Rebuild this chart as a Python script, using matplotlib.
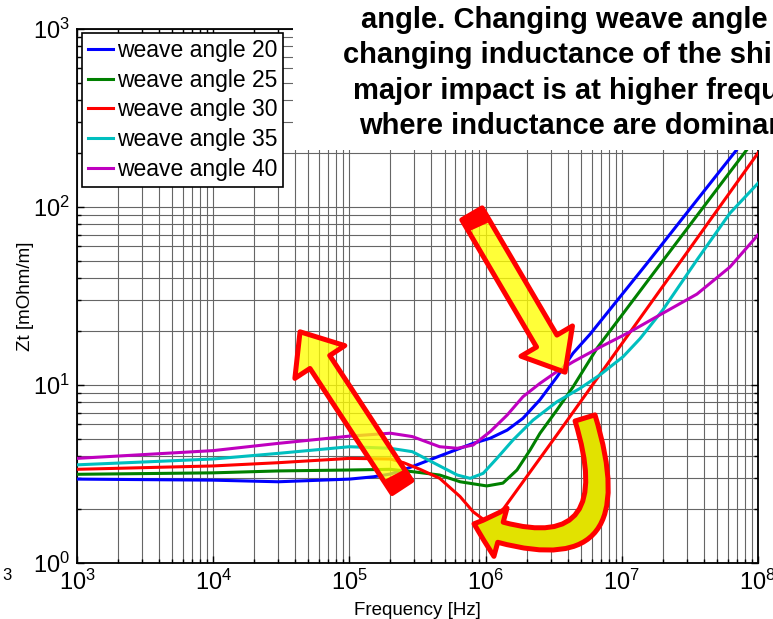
import numpy as np
import matplotlib
matplotlib.use("Agg")
import matplotlib.pyplot as plt
from matplotlib.patches import Rectangle
from matplotlib.ticker import LogLocator, NullFormatter

plt.rcParams['font.family'] = ['Liberation Sans', 'DejaVu Sans']
plt.rcParams['mathtext.fontset'] = 'custom'
plt.rcParams['mathtext.rm'] = 'Liberation Sans'
plt.rcParams['mathtext.it'] = 'Liberation Sans:italic'
plt.rcParams['mathtext.bf'] = 'Liberation Sans:bold'

# transfer impedance, Hz and mOhm/m
freq_20 = [1e3, 1e4, 3e4, 1e5, 1.5e5, 2e5, 2.9e5, 4.6e5, 8.1e5, 1.08e6, 1.44e6,
           1.88e6, 2.5e6, 3.34e6, 4.39e6, 5.85e6, 1.53e7, 3.75e7, 1e8]
zt_20 = [2.96, 2.92, 2.86, 2.96, 3.05, 3.16, 3.48, 3.99, 4.70, 5.02, 5.58,
         6.50, 8.24, 11.1, 15.1, 19.3, 48.2, 115, 297]

freq_25 = [1e3, 1e4, 3e4, 1e5, 2e5, 2.9e5, 4.6e5, 6.5e5, 1.02e6, 1.34e6, 1.70e6,
           2.12e6, 2.51e6, 3.34e6, 4.39e6, 6.58e6, 1.61e7, 3.75e7, 1e8]
zt_25 = [3.15, 3.21, 3.29, 3.33, 3.36, 3.26, 3.12, 2.86, 2.71, 2.81, 3.33,
         4.31, 5.36, 7.24, 9.77, 16.1, 40.0, 94.2, 254]

freq_30 = [1e3, 1e4, 3e4, 1e5, 2e5, 2.5e5, 3.3e5, 4.6e5, 6.5e5, 8.1e5, 1.02e6,
           1.28e6, 3.52e6, 9.7e6, 1e8]
zt_30 = [3.36, 3.51, 3.66, 3.87, 3.84, 3.66, 3.36, 2.99, 2.36, 1.94, 1.70,
         1.90, 5.55, 16.5, 201]

freq_35 = [1e3, 1e4, 3e4, 1e5, 2e5, 2.9e5, 4.6e5, 6.2e5, 7.7e5, 9.6e5, 1.21e6,
           1.59e6, 2.23e6, 3.34e6, 4.93e6, 6.92e6, 1.02e7, 1.36e7, 2.0e7, 3.56e7,
           6.22e7, 1e8]
zt_35 = [3.56, 3.84, 4.13, 4.50, 4.41, 4.22, 3.51, 3.12, 2.99, 3.19, 3.87,
         4.91, 6.35, 8.05, 9.57, 11.4, 14.4, 18.2, 26.4, 50.4,
         92.3, 136]

freq_40 = [1e3, 1e4, 3e4, 1e5, 2e5, 2.9e5, 4.6e5, 6.2e5, 8.1e5, 1.08e6, 1.44e6,
           1.88e6, 2.5e6, 3.34e6, 4.39e6, 6.92e6, 1.15e7, 2.0e7, 3.56e7, 6.22e7, 1e8]
zt_40 = [3.87, 4.28, 4.70, 5.16, 5.36, 5.13, 4.50, 4.41, 4.60, 5.47, 6.78,
         8.59, 10.2, 11.9, 13.5, 16.3, 19.9, 25.3, 32.4, 46.0, 69.7]

series = [
    ('weave angle 20', freq_20, zt_20, (0, 0, 1)),
    ('weave angle 25', freq_25, zt_25, (0, 0.5, 0)),
    ('weave angle 30', freq_30, zt_30, (1, 0, 0)),
    ('weave angle 35', freq_35, zt_35, (0, 0.75, 0.75)),
    ('weave angle 40', freq_40, zt_40, (0.75, 0, 0.75)),
]

note_lines = ['angle. Changing weave angle is',
              'changing inductance of the shield;',
              'major impact is at higher frequencies',
              'where inductance are dominant.']

W, H = 773, 619
fig = plt.figure(figsize=(W / 100, H / 100), dpi=100)
ax = fig.add_axes([77 / W, 1 - 563 / H, 681 / W, 534 / H])

for name, f, z, c in series:
    ax.plot(f, z, color=c, lw=2.2, label=name, zorder=3)

ax.set_xscale('log')
ax.set_yscale('log')
ax.set_xlim(1e3, 1e8)
ax.set_ylim(1, 1e3)
for axis in (ax.xaxis, ax.yaxis):
    axis.set_major_locator(LogLocator(base=10, numticks=20))
    axis.set_minor_locator(LogLocator(base=10, subs=np.arange(2, 10), numticks=200))
    axis.set_minor_formatter(NullFormatter())

ax.grid(True, which='both', color='#666666', lw=0.8, ls='-', zorder=1)
ax.set_axisbelow(True)
ax.tick_params(which='both', direction='in', top=True, right=True,
               labelsize=17, width=1.0)
ax.tick_params(which='major', length=5, pad=5)
ax.tick_params(which='minor', length=3)
for s in ax.spines.values():
    s.set_linewidth(1.3)

ax.set_xlabel('Frequency [Hz]', fontsize=13.5)
ax.set_ylabel('Zt [mOhm/m]', fontsize=13.5)
ax.xaxis.set_label_coords(0.5, -0.073)
ax.yaxis.set_label_coords(-0.063, 0.5)

leg = ax.legend(loc='upper left', bbox_to_anchor=(0.0073, 0.9925), borderaxespad=0,
                fontsize=16.5, handlelength=1.1, handletextpad=0.17, borderpad=0.25,
                labelspacing=0.3, fancybox=False, framealpha=1, edgecolor='black')
leg.get_frame().set_linewidth(1.2)
leg.set_zorder(6)

# callout arrows
straight = 'simple,head_width=43,head_length=26,tail_width=17'
arrow_kw = dict(arrowstyle=straight, mutation_scale=1, shrinkA=0, shrinkB=0,
                fc=(1, 1, 0, 0.78), ec='red', lw=3.6)
cap_kw = dict(arrowstyle='-', shrinkA=0, shrinkB=0, color='red', lw=16, capstyle='butt')
ax.annotate('', xy=(3.83e6, 11.8), xytext=(7.94e5, 91.5), arrowprops=arrow_kw, zorder=5)
ax.annotate('', xy=(8.8e5, 77.0), xytext=(7.94e5, 91.5), arrowprops=cap_kw, zorder=5)
ax.annotate('', xy=(4.34e4, 19.9), xytext=(2.43e5, 2.67), arrowprops=arrow_kw, zorder=5)
ax.annotate('', xy=(2.17e5, 3.15), xytext=(2.43e5, 2.67), arrowprops=cap_kw, zorder=5)
ax.annotate('', xy=(8.22e5, 1.66), xytext=(5.37e6, 6.53),
            arrowprops=dict(arrowstyle='simple,head_width=36,head_length=20,tail_width=15',
                            mutation_scale=1, shrinkA=0, shrinkB=0,
                            connectionstyle='arc3,rad=-1.0',
                            fc='#e2e200', ec='red', lw=3.6), zorder=5)

# white note box over the top right of the plot
fig.add_artist(Rectangle((293 / W, 1 - 150 / H), 1, 150 / H, transform=fig.transFigure,
                         facecolor='white', edgecolor='none', zorder=3))
for (x0, yb), line in zip([(361, 28), (343, 63), (353, 99), (359, 134)], note_lines):
    fig.text(x0 / W, 1 - yb / H, line, ha='left', va='baseline', fontsize=21,
             fontweight='bold', zorder=4)

fig.text(2 / W, 1 - 580 / H, '3', fontsize=12)

fig.savefig('out.png', dpi=100)
